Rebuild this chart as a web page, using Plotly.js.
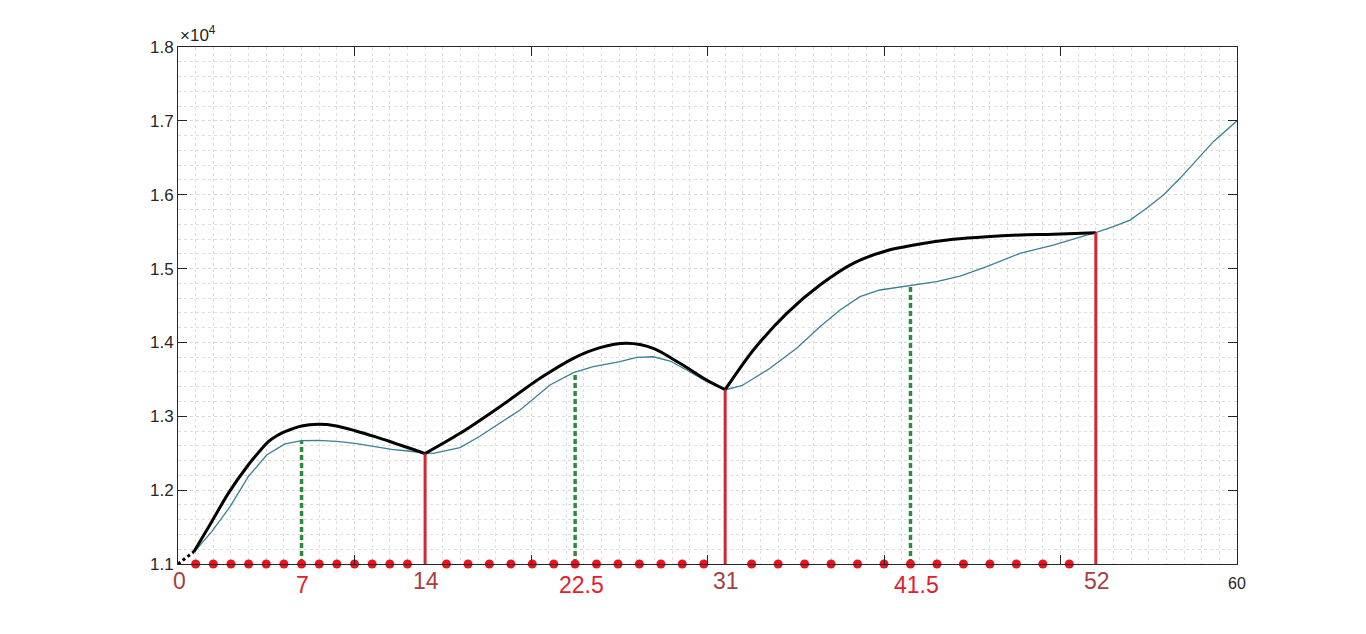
<!DOCTYPE html>
<html>
<head>
<meta charset="utf-8">
<script src="https://cdn.plot.ly/plotly-3.0.1.min.js"></script>
<style>
  html, body { margin: 0; padding: 0; background: #fff; }
  #chart { width: 1366px; height: 634px; }
</style>
</head>
<body>
<div id="chart"></div>
<script>
// black envelope, three arcs joined at the cusps (null splits the spline)
let blackX = [0.9, 1.91, 2.85, 3.98, 4.55, 5.12, 5.6, 6.06, 7, 7.95, 8.9, 10.03, 11.16, 12.3, 13.43, 14, null,
              14, 15.98, 18.24, 20.51, 22.4, 23.91, 25.42, 26.93, 28.44, 29.95, 31, null,
              31, 32.6, 34.49, 36.37, 38.26, 40.15, 42.04, 43.93, 45.82, 47.7, 49.59, 52];
let blackY = [11167, 11573, 11957, 12340, 12507, 12656, 12737, 12791, 12868, 12891, 12873, 12805, 12724, 12634, 12543, 12495, null,
              12495, 12769, 13130, 13514, 13785, 13929, 13988, 13920, 13717, 13491, 13360, null,
              13360, 13897, 14394, 14777, 15071, 15242, 15333, 15396, 15432, 15454, 15464, 15486];

// dashed lead-in of the black curve
let leadX = [0, 0.9];
let leadY = [11000, 11167];

// teal signal
let tealX = [0.95, 1.91, 2.95, 3.98, 5.02, 6.06, 7, 7.95, 8.99, 10.03, 11.16, 12.1, 13.05, 14, 14.46,
             15.98, 17.1, 18.24, 19.38, 21.08, 22.4, 23.53, 25.04, 25.99, 26.93, 27.88, 28.82, 29.95, 31,
             31.94, 33.54, 35.05, 36.37, 37.51, 38.64, 39.77, 41.43, 42.98, 44.31, 45.82, 47.7, 49.59, 51.48, 52,
             52.99, 53.94, 54.88, 55.83, 56.77, 57.72, 58.66, 60];
let tealY = [11170, 11437, 11776, 12182, 12476, 12625, 12670, 12674, 12661, 12634, 12590, 12553, 12530, 12500, 12499,
             12575, 12730, 12905, 13085, 13423, 13590, 13671, 13739, 13798, 13806, 13748, 13627, 13468, 13360,
             13414, 13650, 13920, 14213, 14439, 14619, 14710, 14773, 14822, 14899, 15025, 15206, 15319, 15454, 15486,
             15567, 15657, 15816, 15996, 16222, 16470, 16718, 17000];

// red split lines and green mid lines
let splitX = [14, 31, 52];
let splitY = [12495, 13360, 15486];
let midX = [7, 22.5, 41.5];
let midY = [12670, 13600, 14777];

// red sample dots on the baseline
let dotX = [1, 2, 3, 4, 5, 6, 7, 8, 9, 10, 11, 12, 13,
            15.21, 16.43, 17.64, 18.86, 20.07, 21.29, 22.5,
            23.71, 24.93, 26.14, 27.36, 28.57, 29.79,
            32.5, 34, 35.5, 37, 38.5, 40, 41.5,
            43, 44.5, 46, 47.5, 49, 50.5];

let baseY = 11000;

let labelVals = [0, 7, 14, 22.5, 31, 41.5, 52];
let labelText = ['0', '7', '14', '22.5', '31', '41.5', '52'];

let yTicks = [11000, 12000, 13000, 14000, 15000, 16000, 17000, 18000];
let yTickText = ['1.1', '1.2', '1.3', '1.4', '1.5', '1.6', '1.7', '1.8'];
let xTicks = [0, 10, 20, 30, 40, 50, 60];
let xEndLabel = '60';

function verticals(xs, ys) {
    let vx = [], vy = [];
    xs.forEach((x, i) => { vx.push(x, x, null); vy.push(baseY, ys[i], null); });
    return {x: vx, y: vy};
}

let split = verticals(splitX, splitY);
let mid = verticals(midX, midY);

let data = [
    {x: mid.x, y: mid.y, mode: 'lines', type: 'scatter',
     line: {color: '#2e8b3e', width: 3.5, dash: '5px,3px'}, hoverinfo: 'none'},
    {x: tealX, y: tealY, mode: 'lines', type: 'scatter',
     line: {color: '#3a7f95', width: 1.3}, hoverinfo: 'none'},
    {x: leadX, y: leadY, mode: 'lines', type: 'scatter',
     line: {color: '#000', width: 3, dash: 'dot'}, hoverinfo: 'none'},
    {x: blackX, y: blackY, mode: 'lines', type: 'scatter', connectgaps: false,
     line: {color: '#000', width: 3, shape: 'spline', smoothing: 0.8}, hoverinfo: 'none'},
    {x: split.x, y: split.y, mode: 'lines', type: 'scatter',
     line: {color: '#d0282e', width: 3}, hoverinfo: 'none'},
    {x: dotX, y: dotX.map(() => baseY), mode: 'markers', type: 'scatter', cliponaxis: false,
     marker: {color: '#e8141c', size: 9}, hoverinfo: 'none'}
];

let font = 'Liberation Sans, Arial, sans-serif';

let annotations = labelVals.map((v, i) => {
    let bright = (labelText[i] == '7' || labelText[i] == '22.5' || labelText[i] == '41.5');
    return {
        x: v, xref: 'x', y: 0, yref: 'paper', yanchor: 'middle',
        yshift: bright ? -21 : -17,
        xshift: (v == 22.5 || v == 41.5) ? 6 : 1,
        text: labelText[i], showarrow: false,
        font: {family: font, size: 23, color: bright ? '#e3202a' : '#a53e3e'}
    };
});
annotations.push({
    x: xTicks[xTicks.length - 1], xref: 'x', y: 0, yref: 'paper', yanchor: 'middle', yshift: -19,
    text: xEndLabel, showarrow: false,
    font: {family: font, size: 16, color: '#262626'}
});
annotations.push({
    x: 0, xref: 'paper', y: 1, yref: 'paper', xanchor: 'left', yanchor: 'bottom', yshift: 0,
    text: '×10<sup>4</sup>', showarrow: false,
    font: {family: font, size: 17, color: '#262626'}
});

let layout = {
    width: 1366,
    height: 634,
    margin: {l: 178, r: 129, t: 47, b: 70},
    paper_bgcolor: '#fff',
    plot_bgcolor: '#fff',
    showlegend: false,
    xaxis: {
        range: [0, 60],
        tickvals: xTicks,
        showticklabels: false,
        ticks: 'inside',
        ticklen: 9,
        tickcolor: '#262626',
        showline: true,
        linecolor: '#262626',
        linewidth: 1,
        mirror: 'ticks',
        showgrid: true,
        gridcolor: '#d8d8d8',
        griddash: 'dot',
        zeroline: false,
        minor: {dtick: 1, showgrid: true, gridcolor: '#dedede', griddash: 'dot'}
    },
    yaxis: {
        range: [11000, 18000],
        tickvals: yTicks,
        ticktext: yTickText,
        ticks: 'inside',
        ticklen: 9,
        tickcolor: '#262626',
        showline: true,
        linecolor: '#262626',
        linewidth: 1,
        mirror: 'ticks',
        showgrid: true,
        gridcolor: '#d8d8d8',
        griddash: 'dot',
        zeroline: false,
        minor: {dtick: 200, showgrid: true, gridcolor: '#dedede', griddash: 'dot'},
        tickfont: {family: font, size: 17, color: '#262626'}
    },
    annotations: annotations
};

Plotly.newPlot('chart', data, layout, {displayModeBar: false, staticPlot: true});
</script>
</body>
</html>
